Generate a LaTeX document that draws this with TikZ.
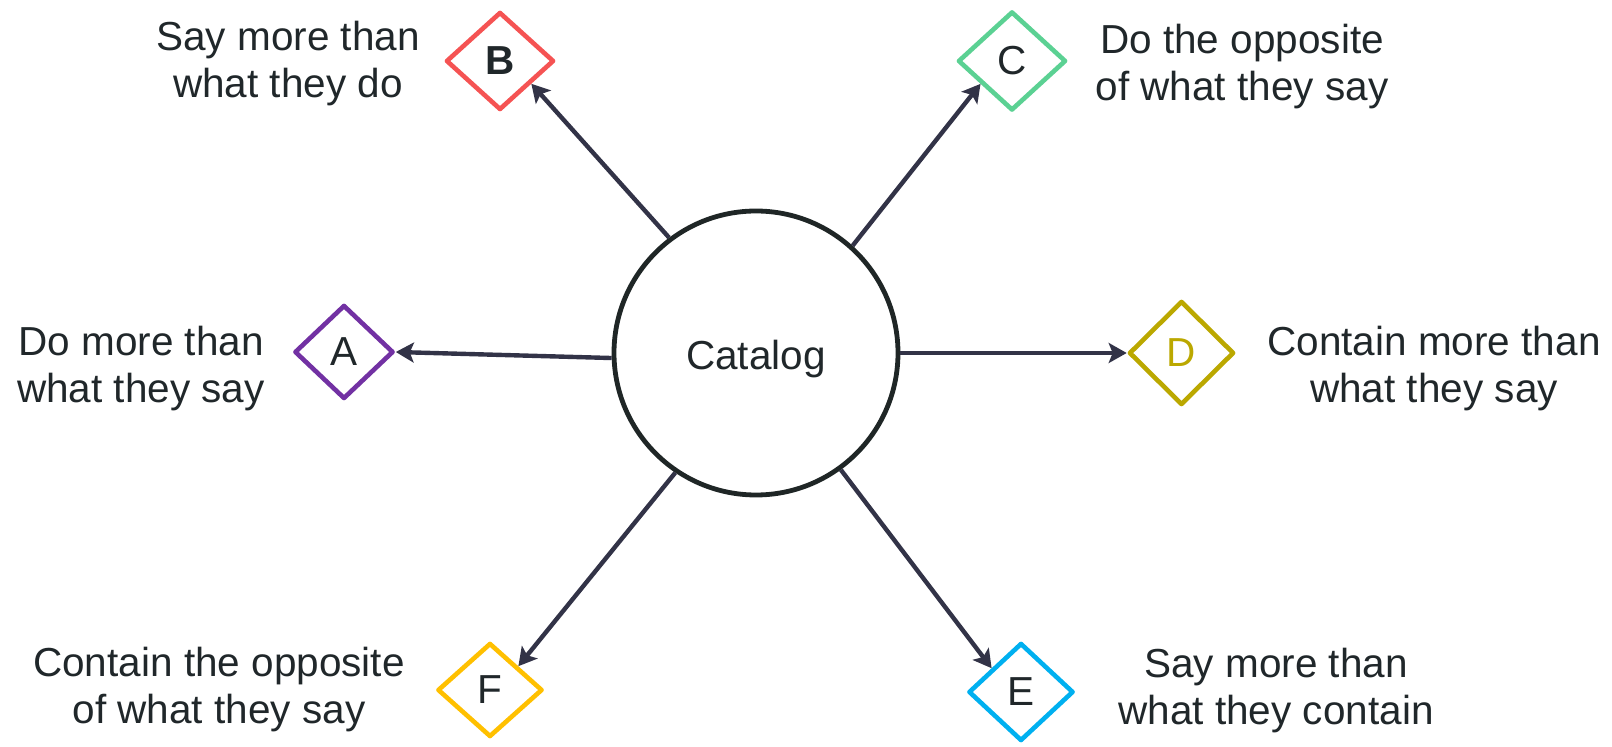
\documentclass[tikz,border=0pt]{standalone}
\usepackage{fontspec}
\setmainfont{Liberation Sans}
\usetikzlibrary{shapes.geometric,arrows.meta}
\definecolor{txt}{HTML}{20272A}
\definecolor{arr}{HTML}{323347}
\definecolor{circ}{HTML}{1F2626}
\definecolor{cA}{HTML}{7231A3}
\definecolor{cB}{HTML}{F55353}
\definecolor{cC}{HTML}{5BD193}
\definecolor{cD}{HTML}{BBA800}
\definecolor{cE}{HTML}{00B0F0}
\definecolor{cF}{HTML}{FFC000}
\begin{document}
\begin{tikzpicture}[x=0.5pt,y=-0.5pt,
  lbl/.style={align=center, text=txt, font=\fontsize{20.25}{23.5}\selectfont, inner sep=0},
  dia/.style={diamond, draw, line width=2.3pt, line join=round, inner sep=0, fill=white,
    font=\fontsize{20.25}{23.5}\selectfont, text=txt},
  conn/.style={draw=arr, line width=2.2pt, -{Stealth[length=9pt,width=10pt,inset=2pt]}},
  hub/.style={circle, draw=circ, line width=2.4pt, minimum size=142pt, inner sep=0,
    fill=white, font=\fontsize{20.25}{23.5}\selectfont, text=txt,
    text height=17pt, text depth=0pt}
]
\useasboundingbox (0,0) rectangle (1612,747);
\node[hub] (cat) at (756,353) {Catalog};
\node[dia, draw=cB, minimum width=54pt, minimum height=49pt] (B) at (500,61) {\textbf{B}};
\node[dia, draw=cC, minimum width=54pt, minimum height=49.5pt] (C) at (1012,61) {C};
\node[dia, draw=cA, minimum width=49.5pt, minimum height=47pt] (A) at (344,352) {A};
\node[dia, draw=cD, text=cD, minimum width=52.5pt, minimum height=52pt] (D) at (1181.5,353) {D};
\node[dia, draw=cF, minimum width=52.5pt, minimum height=47pt] (F) at (490,690) {F};
\node[dia, draw=cE, minimum width=52.5pt, minimum height=49pt] (E) at (1021,692) {E};

\node[lbl] (lB) at (288,64) {Say more than\\what they do};
\node[lbl] (lC) at (1242,67) {Do the opposite\\of what they say};
\node[lbl] (lA) at (141,369) {Do more than\\what they say};
\node[lbl] (lD) at (1434,369) {Contain more than\\what they say};
\node[lbl] (lF) at (219,690) {Contain the opposite\\of what they say};
\node[lbl] (lE) at (1276,691) {Say more than\\what they contain};

\draw[conn] (cat.127) -- (B.-36);
\draw[conn] (cat.48) -- (C.216);
\draw[conn] (cat.182) -- (A.east);
\draw[conn] (cat.0) -- (D.west);
\draw[conn] (cat.-124) -- (F.40);
\draw[conn] (cat.-54) -- (E.141.5);
\end{tikzpicture}
\end{document}
